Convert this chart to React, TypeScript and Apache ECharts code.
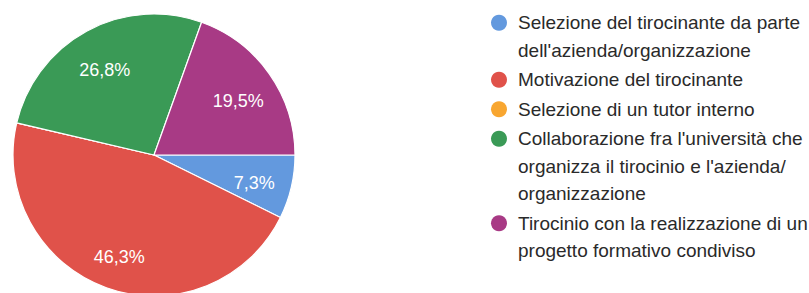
import React, { useEffect, useRef } from 'react';
import * as echarts from 'echarts';

const categories = [
  "Selezione del tirocinante da parte dell'azienda/organizzazione",
  'Motivazione del tirocinante',
  'Selezione di un tutor interno',
  "Collaborazione fra l'università che organizza il tirocinio e l'azienda/organizzazione",
  'Tirocinio con la realizzazione di un progetto formativo condiviso',
];

const legendLabels = [
  "Selezione del tirocinante da parte\ndell'azienda/organizzazione",
  'Motivazione del tirocinante',
  'Selezione di un tutor interno',
  "Collaborazione fra l'università che\norganizza il tirocinio e l'azienda/\norganizzazione",
  'Tirocinio con la realizzazione di un\nprogetto formativo condiviso',
];

const values = [7.3, 46.3, 0, 26.8, 19.5];

const colors = ['#6399de', '#e0524a', '#f8a630', '#3a9a56', '#a83a85'];

const CENTER: [number, number] = [154, 155];
const LABEL_SCALE = 1.4;
const LABEL_DROP = 5;
const LINE_H = 27.5;
const ITEM_GAP = 2;
const LEGEND_FIRST_Y = 18.5;
const LEGEND_LEFT = 491;
const FONT_SIZE = 19;

export default function App() {
  const ref = useRef<HTMLDivElement>(null);

  useEffect(() => {
    if (!ref.current) return;
    const chart = echarts.init(ref.current, undefined, { renderer: 'svg' });
    const font = "'Liberation Sans', Arial, Helvetica, sans-serif";

    // one legend per entry so the marker lines up with the first text line
    let iconY = LEGEND_FIRST_Y;
    const legends = categories.map((name, i) => {
      const lines = legendLabels[i].split('\n');
      const k = lines.length;
      const text = [...Array(k - 1).fill('\u00a0'), ...lines].join('\n');
      const top = iconY - (k - 1) * LINE_H - FONT_SIZE / 2;
      iconY += k * LINE_H + ITEM_GAP;
      return {
        orient: 'vertical',
        left: LEGEND_LEFT,
        top,
        padding: 0,
        itemWidth: 16,
        itemHeight: 16,
        icon: 'circle',
        itemStyle: { borderWidth: 0, borderColor: 'transparent' },
        data: [name],
        formatter: () => text,
        textStyle: {
          fontFamily: font,
          fontSize: FONT_SIZE,
          color: '#2a2a2a',
          lineHeight: LINE_H,
          padding: [0, 0, 0, 6],
        },
      };
    });

    chart.setOption({
      animation: false,
      backgroundColor: '#ffffff',
      color: colors,
      legend: legends,
      series: [
        {
          type: 'pie',
          center: CENTER,
          radius: 141,
          startAngle: 0,
          clockwise: true,
          avoidLabelOverlap: false,
          itemStyle: { borderColor: '#ffffff', borderWidth: 1.2 },
          emphasis: { disabled: true },
          label: {
            show: true,
            position: 'inside',
            color: '#ffffff',
            fontFamily: font,
            fontSize: 18,
            formatter: (p: any) =>
              p.value > 0 ? `${Number(p.value).toFixed(1).replace('.', ',')}%` : '',
          },
          labelLine: { show: false },
          labelLayout: (params: any) => {
            const r = params.labelRect;
            const lx = r.x + r.width / 2;
            const ly = r.y + r.height / 2;
            return {
              x: CENTER[0] + (lx - CENTER[0]) * LABEL_SCALE,
              y: CENTER[1] + (ly - CENTER[1]) * LABEL_SCALE + LABEL_DROP,
            };
          },
          data: categories.map((name, i) => ({ name, value: values[i] })),
        },
      ],
    });
    return () => chart.dispose();
  }, []);

  return (
    <div
      ref={ref}
      style={{ position: 'fixed', left: 0, top: 0, width: 809, height: 293 }}
    />
  );
}
